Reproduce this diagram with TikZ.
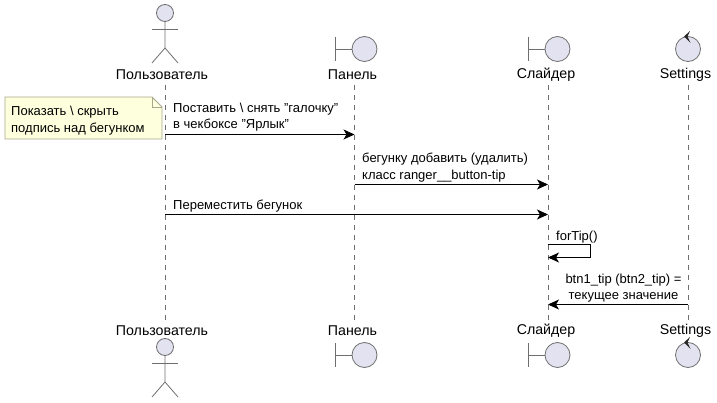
\documentclass[tikz,border=0pt]{standalone}
\usepackage{fontspec}
\setmainfont{Liberation Sans}
\usetikzlibrary{arrows.meta}
\definecolor{partfill}{HTML}{E2E2F0}
\definecolor{partline}{HTML}{6E6E6E}
\definecolor{notefill}{HTML}{FEFFDD}
\definecolor{noteline}{HTML}{A8A88C}
\tikzstyle{lifeline}=[draw=partline, line width=0.8pt, dash pattern=on 5pt off 5pt]
\tikzstyle{partname}=[inner sep=0pt, font=\fontsize{14.2}{16}\selectfont]
\tikzstyle{msgtext}=[inner sep=0pt, font=\fontsize{13}{16.5}\selectfont]
\tikzstyle{arrow}=[draw=black, line width=0.9pt, -{Stealth[length=11pt, width=10pt, inset=3pt]}]
\tikzstyle{part}=[draw=partline, fill=partfill, line width=0.8pt]
\tikzstyle{glyph}=[draw=partline, line width=0.8pt]
\newcommand{\actorfig}[2]{
	\draw[part] (#1, #2) circle (8.5);
	\draw[glyph] (#1, #2+8.5) -- (#1, #2+35) -- (#1-13, #2+50);
	\draw[glyph] (#1, #2+35) -- (#1+13, #2+50);
	\draw[glyph] (#1-13, #2+16) -- (#1+13, #2+16);
}
\newcommand{\boundaryfig}[2]{
	\draw[glyph] (#1-29.5, #2-12) -- (#1-29.5, #2+12);
	\draw[glyph] (#1-29.5, #2) -- (#1-12.5, #2);
	\draw[part] (#1, #2) circle (12.5);
}
\newcommand{\controlfig}[2]{
	\draw[part] (#1, #2) circle (12.5);
	\fill[black!85] (#1-4, #2-12.5) -- (#1+2, #2-18) -- (#1-0.5, #2-12.5) -- (#1+2.5, #2-6) -- cycle;
}
\begin{document}
\begin{tikzpicture}[x=1pt, y=-1pt]
	\useasboundingbox (0, 0) rectangle (717, 403);
	\begin{scope}
		% top and bottom names
		\node[partname] (usertop) at (162, 75) {Пользователь};
		\node[partname] (paneltop) at (352.5, 75) {Панель};
		\node[partname] (slidertop) at (546, 75) {Слайдер};
		\node[partname] (settingstop) at (685.5, 75) {Settings};
		\node[partname] (userbot) at (162, 331) {Пользователь};
		\node[partname] (panelbot) at (352.5, 331) {Панель};
		\node[partname] (sliderbot) at (546, 331) {Слайдер};
		\node[partname] (settingsbot) at (685.5, 331) {Settings};
		% note
		\draw[draw=noteline, fill=notefill, line width=0.8pt] (5, 97) -- (152, 97) -- (162, 107) -- (162, 139) -- (5, 139) -- cycle;
		\draw[draw=noteline, line width=0.8pt] (152, 97) -- (152, 107) -- (162, 107);
		\node[msgtext, anchor=west, align=left] (note) at (11, 120.5) {Показать \textbackslash{} скрыть\\подпись над бегунком};
		% messages
		\node[msgtext, anchor=west, align=left] (m1) at (173, 117) {Поставить \textbackslash{} снять "галочку"\\в чекбоксе "Ярлык"};
		\node[msgtext, anchor=west, align=left] (m2) at (362, 167.5) {бегунку добавить (удалить)\\класс ranger\_\_button-tip};
		\node[msgtext, anchor=west] (m3) at (173, 206.5) {Переместить бегунок};
		\node[msgtext, anchor=west] (m4) at (556, 237) {forTip()};
		\node[msgtext, align=center] (m5) at (623.5, 288) {btn1\_tip (btn2\_tip) =\\текущее значение};
	\end{scope}
	\begin{scope}
		\coordinate (u1) at (165, 85);
		\coordinate (u2) at (165, 321);
		\coordinate (p1) at (354.5, 85);
		\coordinate (p2) at (354.5, 321);
		\coordinate (s1) at (548, 85);
		\coordinate (s2) at (548, 321);
		\coordinate (t1) at (688, 85);
		\coordinate (t2) at (688, 321);
		\path[lifeline] (u1) -- (u2);
		\path[lifeline] (p1) -- (p2);
		\path[lifeline] (s1) -- (s2);
		\path[lifeline] (t1) -- (t2);
	\end{scope}
	\begin{scope}
		\coordinate (a1) at (165, 134.5);
		\coordinate (b1) at (354.5, 134.5);
		\coordinate (a2) at (354.5, 184.5);
		\coordinate (b2) at (548, 184.5);
		\coordinate (a3) at (165, 214.5);
		\coordinate (b3) at (548, 214.5);
		\coordinate (a4) at (548, 244.5);
		\coordinate (b4) at (590.5, 244.5);
		\coordinate (c4) at (590.5, 257.5);
		\coordinate (d4) at (548, 257.5);
		\coordinate (a5) at (688, 304.5);
		\coordinate (b5) at (548, 304.5);
		\path[arrow] (a1) -- (b1);
		\path[arrow] (a2) -- (b2);
		\path[arrow] (a3) -- (b3);
		\path[arrow] (a4) -- (b4) -- (c4) -- (d4);
		\path[arrow] (a5) -- (b5);
	\end{scope}
	\actorfig{165}{13}
	\boundaryfig{364.5}{49}
	\boundaryfig{557.5}{49}
	\controlfig{688}{49}
	\actorfig{165}{347}
	\boundaryfig{364.5}{355}
	\boundaryfig{557.5}{355}
	\controlfig{688}{355}
\end{tikzpicture}
\end{document}
